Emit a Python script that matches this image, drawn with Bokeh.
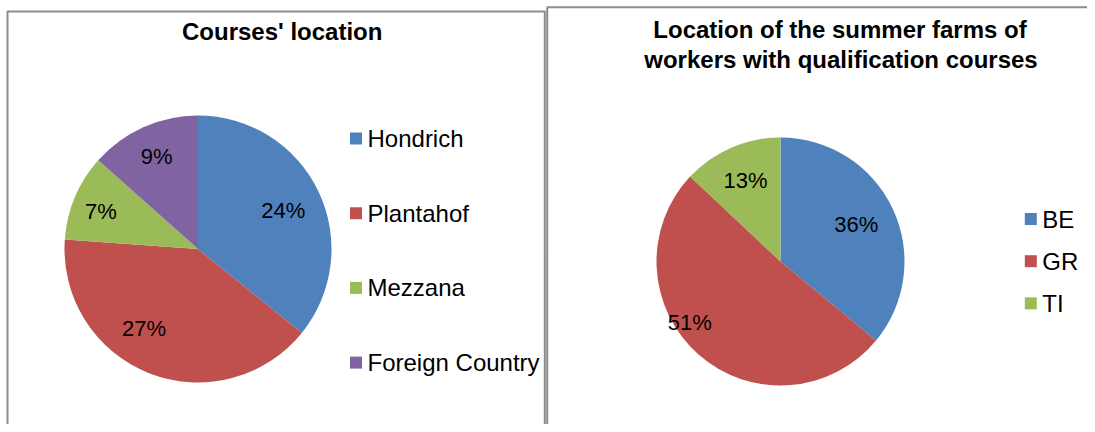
import math
from bokeh.plotting import figure
from bokeh.models import Range1d, ColumnDataSource
from bokeh.embed import file_html
from bokeh.resources import INLINE
from bokeh.core.properties import value

# ---------------- data ----------------
courses_categories = ["Hondrich", "Plantahof", "Mezzana", "Foreign Country"]
courses_values = [24, 27, 7, 9]
courses_colors = ["#4F81BD", "#C0504D", "#9BBB59", "#8064A2"]
courses_title = ["Courses' location"]

farms_categories = ["BE", "GR", "TI"]
farms_values = [36, 51, 13]
farms_colors = ["#4F81BD", "#C0504D", "#9BBB59"]
farms_title = ["Location of the summer farms of", "workers with qualification courses"]

# ---------------- layout / style ----------------
FONT = value("Liberation Sans")
FS_TXT = "24px"
FS_LBL = "22px"
BORDER = "#8c8c8c"

W, H = 1087, 424
p = figure(width=W, height=H, x_range=Range1d(0, W), y_range=Range1d(-H, 0),
           output_backend="svg", toolbar_location=None, min_border=0,
           x_axis_type=None, y_axis_type=None)
p.grid.visible = False
p.outline_line_color = None
p.background_fill_color = "white"
p.border_fill_color = "white"

# panel borders (picture pixel coordinates, y downward -> negated)
p.multi_line(xs=[[7, 7, 544.3, 544.3], [546.7, 546.7, 1100]],
             ys=[[-440, -11, -11, -440], [-440, -6.7, -6.7]],
             line_color=BORDER, line_width=2)


def pie(cx, cy, r, values, colors, label_frac, label_nudge):
    total = float(sum(values))
    starts, ends, lx, ly, lt = [], [], [], [], []
    cum = 0.0
    for i, v in enumerate(values):
        a0 = 90 - cum / total * 360
        cum += v
        a1 = 90 - cum / total * 360
        starts.append(a1)
        ends.append(a0)
        mid = math.radians((a0 + a1) / 2 + label_nudge[i])
        lx.append(cx + r * label_frac[i] * math.cos(mid))
        ly.append(-cy + r * label_frac[i] * math.sin(mid))
        lt.append("%d%%" % v)
    src = ColumnDataSource(dict(s=starts, e=ends, c=colors))
    p.wedge(x=cx, y=-cy, radius=r, radius_units="screen",
            start_angle="s", end_angle="e", start_angle_units="deg", end_angle_units="deg",
            direction="anticlock", fill_color="c", line_color=None, source=src)
    p.text(x=lx, y=ly, text=lt, text_align="center", text_baseline="middle",
           text_font=FONT, text_font_size=FS_LBL, text_color="black")


def legend(x0, y0, dy, cats, colors):
    ys = [-(y0 + i * dy) for i in range(len(cats))]
    p.scatter(x=[x0] * len(cats), y=ys, marker="square", size=12,
              fill_color=colors, line_color=None)
    p.text(x=[x0 + 11.5] * len(cats), y=ys, text=cats, text_align="left",
           text_baseline="middle", text_font=FONT, text_font_size=FS_TXT, text_color="black")


# left chart
p.text(x=[281.7], y=[-30.5], text=courses_title, text_align="center", text_baseline="middle",
       text_font=FONT, text_font_size=FS_TXT, text_font_style="bold", text_color="black")
pie(197.5, 248.5, 133.5, courses_values, courses_colors,
    label_frac=[0.70, 0.72, 0.78, 0.757], label_nudge=[-1.3, -12.7, 1.8, 0.0])
legend(355.5, 138, 74.7, courses_categories, courses_colors)

# right chart
p.text(x=[839.5, 840.5], y=[-28.8, -59.0], text=farms_title, text_align="center",
       text_baseline="middle", text_font=FONT, text_font_size=FS_TXT, text_font_style="bold",
       text_color="black")
pie(780, 261, 124, farms_values, farms_colors,
    label_frac=[0.68, 0.88, 0.71], label_nudge=[0.8, -14.8, 0.0])
legend(1030.3, 218.5, 42.2, farms_categories, farms_colors)

open("out.html", "w").write(file_html(p, INLINE))
